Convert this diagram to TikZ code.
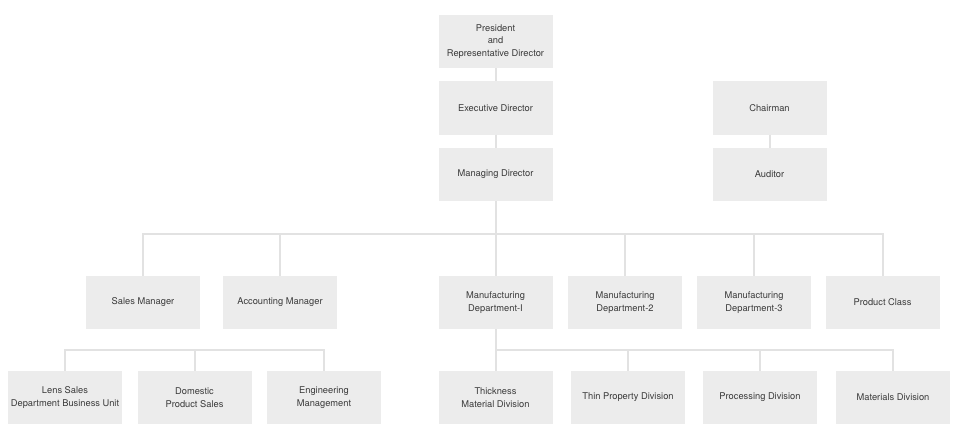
\documentclass[tikz,border=0pt]{standalone}
\usepackage{fontspec}
\setmainfont{TeX Gyre Heros}
\definecolor{boxfill}{HTML}{ECECEC}
\definecolor{linecol}{HTML}{E2E2E2}
\definecolor{txt}{HTML}{3A3A3A}
\tikzset{
  orgbox/.style={rectangle, fill=boxfill, minimum width=114pt, minimum height=53pt,
    inner sep=0pt, align=center, text=txt, font=\fontsize{9.3}{12.5}\selectfont},
  conn/.style={draw=linecol, line width=2pt}
}
\begin{document}
\begin{tikzpicture}[x=1pt,y=-1pt]
\useasboundingbox (0,0) rectangle (960,441);
\fill[white] (0,0) rectangle (960,441);
% top column
\node[orgbox] (pres) at (495.5,41.5) {President\\and\\Representative Director};
\node[orgbox] (exec) at (495.5,108) {Executive Director};
\node[orgbox] (mgd) at (495.5,174.5) {Managing Director};
\node[orgbox] (chair) at (769.5,108) {Chairman};
\node[orgbox] (aud) at (769.5,174.5) {Auditor};
% row 4
\node[orgbox] (sales) at (143,302.5) {Sales Manager};
\node[orgbox] (acct) at (280,302.5) {Accounting Manager};
\node[orgbox] (mfga) at (495.5,302.5) {Manufacturing\\Department-I};
\node[orgbox] (mfgb) at (625,302.5) {Manufacturing\\Department-2};
\node[orgbox] (mfgc) at (754,302.5) {Manufacturing\\Department-3};
\node[orgbox] (prod) at (882.5,302.5) {Product Class};
% row 5
\node[orgbox] (lens) at (65,397.5) {Lens Sales\\Department Business Unit};
\node[orgbox] (dom) at (194.5,397.5) {Domestic\\Product Sales};
\node[orgbox] (eng) at (324,397.5) {Engineering\\Management};
\node[orgbox] (thick) at (495.5,397.5) {Thickness\\Material Division};
\node[orgbox] (thin) at (628,397.5) {Thin Property Division};
\node[orgbox] (proc) at (760,397.5) {Processing Division};
\node[orgbox] (mat) at (893,397.5) {Materials Division};
% bus coordinates
\coordinate (busa) at (495.5,234);
\coordinate (busb) at (0,350);
% connectors
\draw[conn] (pres) -- (exec);
\draw[conn] (exec) -- (mgd);
\draw[conn] (chair) -- (aud);
\draw[conn] (mgd) -- (busa);
\draw[conn] (sales.north) -- (sales.north |- busa) -- (prod.north |- busa) -- (prod.north);
\draw[conn] (acct.north) -- (acct.north |- busa);
\draw[conn] (mfga.north) -- (mfga.north |- busa);
\draw[conn] (mfgb.north) -- (mfgb.north |- busa);
\draw[conn] (mfgc.north) -- (mfgc.north |- busa);
\draw[conn] (lens.north) -- (lens.north |- busb) -- (eng.north |- busb) -- (eng.north);
\draw[conn] (dom.north) -- (dom.north |- busb);
\draw[conn] (mfga) -- (thick);
\draw[conn] (thick.north |- busb) -- (mat.north |- busb) -- (mat.north);
\draw[conn] (thin.north) -- (thin.north |- busb);
\draw[conn] (proc.north) -- (proc.north |- busb);
\end{tikzpicture}
\end{document}
